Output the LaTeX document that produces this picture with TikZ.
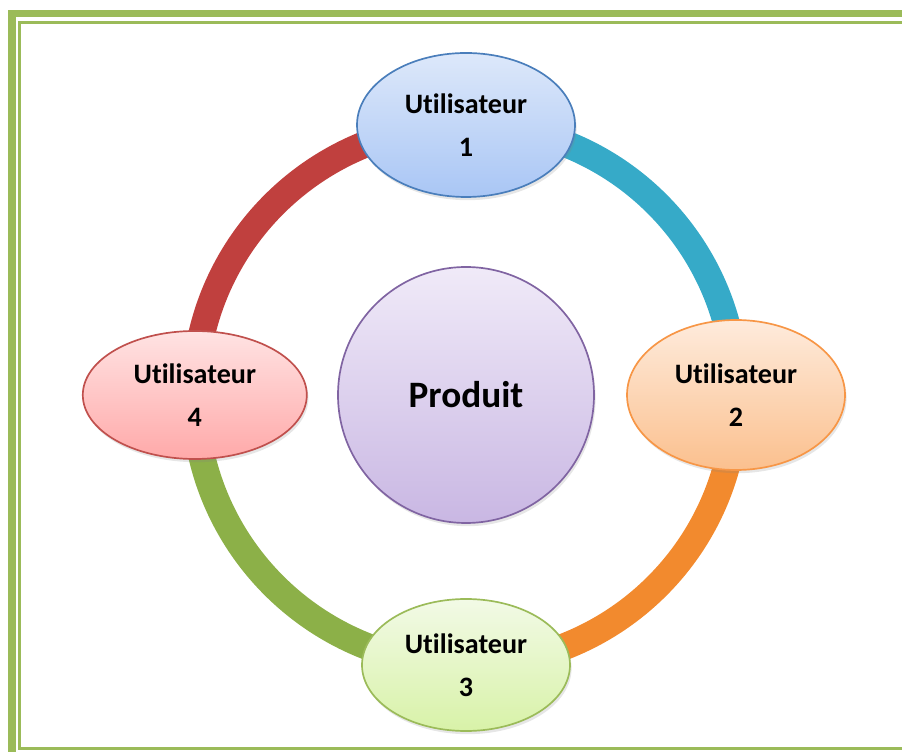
\documentclass[tikz,border=0pt]{standalone}
\usepackage{fontspec}
\setmainfont{Carlito}[Ligatures=NoCommon]
\usepackage{tikz}
\usetikzlibrary{shapes.geometric,shadows,backgrounds}

\definecolor{frame}{HTML}{9BBB59}
\definecolor{ringred}{HTML}{C0403E}
\definecolor{ringteal}{HTML}{36AAC8}
\definecolor{ringorange}{HTML}{F28A2E}
\definecolor{ringgreen}{HTML}{8CB048}

\tikzset{
    user/.style={ellipse,draw,line width=1.2pt,align=center,inner sep=0pt,
        font=\fontsize{20}{30.5}\selectfont\bfseries,
        drop shadow={opacity=0.2,shadow xshift=0.04cm,shadow yshift=-0.08cm}},
    ring/.style={line width=0.67cm},
}

\begin{document}
\begin{tikzpicture}
                \useasboundingbox (-11.65,-8.925) rectangle (10.9,9.875);

                \draw[frame,line width=0.19cm] (-11.35,-8.925) -- (-11.35,9.5375) -- (10.9,9.5375);
                \draw[frame,line width=0.075cm] (10.9,-8.8375) -- (-11.15,-8.8375) -- (-11.15,9.3125) -- (10.9,9.3125);

                \node[circle,draw={rgb,255:red,128;green,100;blue,162},line width=1.2pt,minimum size=6.4cm,
                    top color={rgb,255:red,240;green,234;blue,248},bottom color={rgb,255:red,201;green,183;blue,227},
                    drop shadow={opacity=0.2,shadow xshift=0.04cm,shadow yshift=-0.08cm},
                    font=\fontsize{26.5}{32}\selectfont\bfseries] (prod) at (0, 0) {Produit};

                \node[user,draw={rgb,255:red,74;green,126;blue,187},minimum width=5.45cm,minimum height=3.6cm,
                    top color={rgb,255:red,221;green,232;blue,250},bottom color={rgb,255:red,169;green,198;blue,245}] (u1) at (0, 6.75) {Utilisateur\\1};
                \node[user,draw={rgb,255:red,247;green,150;blue,70},minimum width=5.45cm,minimum height=3.75cm,
                    top color={rgb,255:red,254;green,235;blue,220},bottom color={rgb,255:red,251;green,192;blue,142}] (u2) at (6.75, 0) {Utilisateur\\2};
                \node[user,draw={rgb,255:red,155;green,187;blue,89},minimum width=5.2cm,minimum height=3.3cm,
                    top color={rgb,255:red,242;green,250;blue,230},bottom color={rgb,255:red,216;green,242;blue,168}] (u3) at (0, -6.75) {Utilisateur\\3};
                \node[user,draw={rgb,255:red,192;green,80;blue,77},minimum width=5.6cm,minimum height=3.2cm,
                    top color={rgb,255:red,255;green,227;blue,227},bottom color={rgb,255:red,255;green,169;blue,169}] (u4) at (-6.78, 0) {Utilisateur\\4};

                \begin{pgfonlayer}{background}
                \draw[ring,ringteal] (u1.center) to[out=0,in=90] (u2.center);
                \draw[ring,ringorange] (u2.center) to[out=-90,in=0] (u3.center);
                \draw[ring,ringgreen] (u3.center) to[out=180,in=-90] (u4.center);
                \draw[ring,ringred] (u4.center) to[out=90,in=180] (u1.center);
                \end{pgfonlayer}
            \end{tikzpicture}
\end{document}
